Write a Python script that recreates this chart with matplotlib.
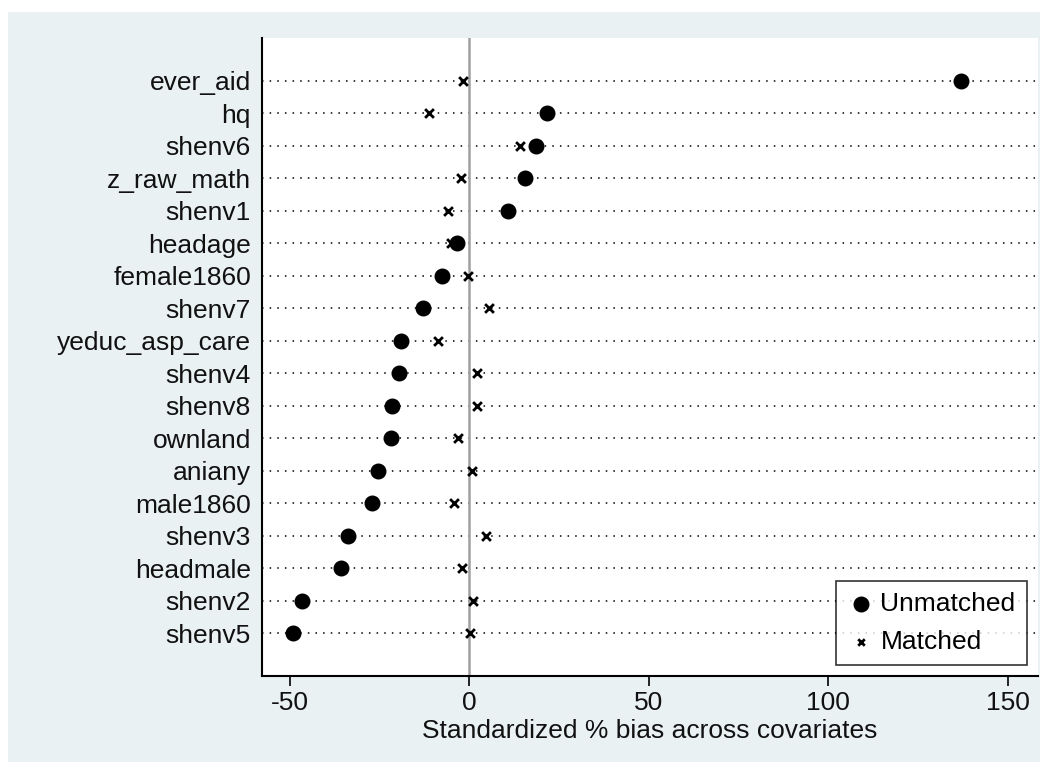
import matplotlib
matplotlib.use("Agg")
import matplotlib.pyplot as plt

plt.rcParams['font.family'] = ['Liberation Sans', 'DejaVu Sans']

# covariates, top to bottom
variables = ["ever_aid", "hq", "shenv6", "z_raw_math", "shenv1", "headage",
             "female1860", "shenv7", "yeduc_asp_care", "shenv4", "shenv8",
             "ownland", "aniany", "male1860", "shenv3", "headmale", "shenv2", "shenv5"]
unmatched = [137.0, 21.7, 18.6, 15.6, 10.9, -3.3, -7.7, -13.0, -19.1, -19.6,
             -21.6, -21.7, -25.5, -27.2, -33.7, -35.8, -46.6, -49.0]
matched = [-1.8, -11.1, 14.1, -2.4, -5.9, -5.2, -0.45, 5.6, -8.6, 2.3,
           2.3, -3.1, 0.85, -4.2, 4.8, -1.9, 1.1, 0.2]
xticks = [-50, 0, 50, 100, 150]

fig = plt.figure(figsize=(10.48, 7.74), dpi=100)
fig.patch.set_facecolor("white")

# stata-like graph region behind everything
bg = fig.add_axes([8 / 1048, 12 / 774, 1032 / 1048, 750 / 774])
bg.set_facecolor("#EAF1F3")
bg.set_xticks([])
bg.set_yticks([])
for s in bg.spines.values():
    s.set_visible(False)
bg.set_zorder(0)

ax = fig.add_axes([262 / 1048, 98 / 774, 776 / 1048, 638 / 774])
ax.set_zorder(1)
ax.set_facecolor("white")

ypos = list(range(len(variables)))
for y in ypos:
    ax.axhline(y, color="black", linestyle=(0, (1, 4)), linewidth=1.1, zorder=1)
ax.axvline(0, color="#A0A0A0", linewidth=1.8, zorder=1)

ax.scatter(unmatched, ypos, s=110, color="black", marker="o", zorder=3, label="Unmatched")
ax.scatter(matched, ypos, s=40, color="black", marker="x", linewidths=2, zorder=3, label="Matched")

ax.set_xlim(-57.7, 158.4)
ax.set_ylim(len(variables) - 1 + 1.32, -1.32)
ax.set_yticks(ypos)
ax.set_yticklabels(variables, fontsize=19, color="#111111")
ax.set_xticks(xticks)
ax.set_xticklabels([str(t) for t in xticks], fontsize=19, color="#111111")
ax.tick_params(axis="y", length=0, pad=8)
ax.tick_params(axis="x", length=7, width=1.2, pad=4)
ax.set_xlabel("Standardized % bias across covariates", fontsize=19,
              labelpad=3, color="#111111")

ax.spines["top"].set_visible(False)
ax.spines["right"].set_visible(False)
ax.spines["left"].set_linewidth(1.5)
ax.spines["bottom"].set_linewidth(1.5)

leg = ax.legend(loc="lower right", fontsize=19, frameon=True, fancybox=False,
                edgecolor="black", borderaxespad=0.4, handletextpad=0.25,
                handlelength=1.0, borderpad=0.45, labelspacing=0.5)
leg.get_frame().set_linewidth(1.2)
leg.legend_handles[1].set_sizes([22])

fig.savefig("out.png", dpi=100, facecolor=fig.get_facecolor())
